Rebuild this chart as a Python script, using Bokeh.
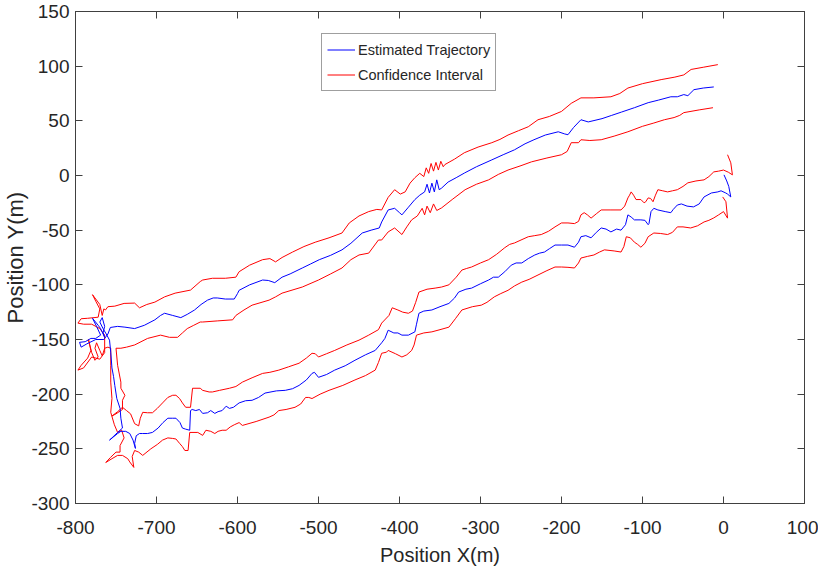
from bokeh.plotting import figure
from bokeh.models import LinearAxis, Legend, LegendItem, FixedTicker, Range1d
from bokeh.embed import file_html
from bokeh.resources import INLINE

# ---------------- data ----------------
x_ticks = [-800, -700, -600, -500, -400, -300, -200, -100, 0, 100]
y_ticks = [-300, -250, -200, -150, -100, -50, 0, 50, 100, 150]

# Estimated trajectory (x, y) in metres
trajectory = [
    (0.6, 0.6), (4, -5), (6.5, -10), (9, -19.6), (5, -17), (2.8, -16), (-3, -14), (-7, -15), (-15, -16),
    (-24, -19.6), (-30, -26), (-37, -28.7), (-45, -28), (-52, -26), (-57, -27), (-62, -31), (-65, -34),
    (-72, -33), (-81, -31.5), (-86, -30), (-89.5, -33), (-92, -44), (-93, -45), (-97, -41), (-102, -40.6),
    (-110, -40.6), (-114, -38), (-118, -36), (-121, -45), (-126.5, -50), (-132, -49), (-139, -51.6),
    (-145, -49), (-151, -48), (-157, -52), (-163.5, -57), (-170, -55), (-176, -56), (-179, -61), (-184, -65.6),
    (-192, -63.6), (-200, -63.6), (-208, -63.6), (-215, -67), (-221, -70), (-227, -71), (-233, -72.7),
    (-241, -76), (-249, -80), (-256, -80), (-262, -82), (-270, -88), (-278, -93), (-284, -93), (-290, -95.6),
    (-300, -99), (-311, -103), (-318, -104), (-327, -106.6), (-332, -112), (-339, -117), (-350, -120),
    (-360, -123), (-370, -124), (-376, -126), (-379, -136), (-381, -143), (-389, -146), (-397, -146),
    (-402, -144), (-407, -144), (-414, -141.5), (-418, -149), (-422, -153), (-430, -160), (-442, -164),
    (-455, -169), (-467, -174), (-480, -178), (-490, -182), (-500, -184.6), (-505, -180), (-508, -181),
    (-515, -187), (-524, -192), (-532, -195), (-541, -196.5), (-552, -197), (-566, -199), (-574, -203),
    (-582, -205.6), (-590, -206), (-598, -208), (-605, -212), (-610, -213), (-614, -211), (-619, -215),
    (-624, -216), (-628, -217.6), (-633, -215), (-637, -217), (-643, -217.6), (-647, -214), (-651.5, -215),
    (-656, -214), (-658, -215), (-659, -233), (-664, -232), (-668, -231), (-671, -226), (-676, -222),
    (-680, -222), (-686, -222), (-692, -226), (-698, -231), (-705, -235), (-711, -236), (-717, -236),
    (-721, -236), (-725, -238), (-727, -245), (-726, -249.6), (-729, -242), (-733, -236), (-738, -234),
    (-744, -234), (-748, -236), (-753, -239), (-758, -242), (-755, -240), (-748, -235), (-742, -231),
    (-744, -222), (-745, -213), (-749, -204), (-751.5, -192), (-753, -184), (-755, -176), (-756.5, -161.6),
    (-758, -150.6), (-762, -145), (-766, -140), (-770, -134), (-767, -130), (-764, -138), (-766, -144),
    (-764, -148), (-769, -140), (-772, -137), (-779, -130.6), (-774, -138), (-769, -146), (-775, -149),
    (-781, -149), (-788, -152), (-795, -152.6), (-793, -157), (-786, -154), (-775, -150), (-765, -150),
    (-760, -145), (-757, -139), (-748, -138), (-739, -138.7), (-727, -140), (-715, -137), (-702, -132),
    (-695, -128), (-690, -126), (-680, -128), (-670, -130), (-662, -127), (-653, -123), (-645, -118),
    (-637, -114), (-630, -112), (-625, -112), (-615, -113), (-604, -113), (-600, -108), (-598, -105),
    (-585, -100), (-569, -95.6), (-562, -96), (-554, -98), (-545, -93), (-535, -90), (-520, -84.6),
    (-510, -81), (-499, -77), (-485, -73), (-471, -68), (-460, -62), (-446, -52.6), (-435, -50), (-425, -48),
    (-422, -42.5), (-414, -31.5), (-406, -30), (-400, -34), (-397, -36), (-389, -29), (-381, -22),
    (-375, -18), (-369, -15), (-366, -8), (-363, -16), (-360, -7), (-357, -15), (-354, -4), (-351, -13),
    (-348, -11.5), (-340, -6), (-330, -2), (-319.5, 2.4), (-305, 8), (-286, 14.3), (-272, 19), (-258, 23.5),
    (-245, 29), (-234, 32.7), (-220, 37), (-204, 40), (-196, 38), (-192, 37.3), (-185, 44), (-176, 51),
    (-167, 49), (-150, 52), (-138, 55), (-126, 58), (-110, 62), (-93, 66.6), (-80, 69), (-65, 72), (-57, 72),
    (-49, 74), (-44, 73), (-36.5, 78.5), (-25, 80), (-12, 81),
]

# Confidence interval, right-hand boundary
ci_right = [
    (5, 19), (9, 11.6), (11, 0.6), (6, 3), (0, 5), (-6, 4), (-12, 3.3), (-18, -1), (-24, -4), (-34, -5),
    (-44, -6.7), (-50, -10), (-57, -13), (-63, -14), (-69, -15), (-75, -14), (-81, -13), (-84, -18),
    (-87, -24), (-90, -21), (-93, -20.5), (-96, -24), (-98, -25), (-102, -22), (-108, -22), (-111, -18),
    (-114, -15), (-116, -18), (-118, -20.5), (-122, -28), (-126.5, -31.5), (-140, -31.5), (-151, -31.5),
    (-157, -35), (-163.5, -39), (-168, -36), (-172, -34), (-176, -36), (-179, -42), (-184, -44),
    (-192, -43.4), (-200, -43.4), (-208, -47), (-216, -51), (-225, -54), (-233, -55), (-241, -56),
    (-250, -59), (-258, -61.7), (-264, -63), (-270, -66), (-280, -72), (-290, -77), (-300, -80),
    (-311, -83.7), (-317, -85), (-323, -86.5), (-330, -93), (-339, -100), (-348, -102), (-356, -103),
    (-366, -104), (-376, -106.6), (-380, -116), (-384, -124), (-389, -126), (-396, -125), (-402, -123),
    (-409, -121), (-413, -128), (-422, -135), (-426, -141), (-438, -146), (-450, -150.6), (-465, -155),
    (-480, -160), (-490, -163), (-500, -166), (-504, -163), (-508, -162.6), (-515, -167), (-524, -171.7),
    (-537, -175), (-549, -178), (-560, -180), (-569, -181), (-582, -185), (-594, -189), (-602, -193),
    (-610, -194.6), (-622, -196.5), (-631, -198), (-635, -198), (-643, -196.5), (-646, -194.6),
    (-655.5, -194.6), (-658, -212), (-664, -212), (-668, -208), (-671.5, -204), (-676, -201), (-680, -201),
    (-686, -203), (-692.5, -208), (-699, -213), (-705, -217), (-711, -217), (-717, -216.6), (-720, -222),
    (-722, -229), (-727, -227), (-732, -218), (-737, -215), (-742, -212), (-748, -216), (-755, -220),
    (-750, -218), (-742, -214), (-742, -205.6), (-739, -201), (-744, -194.6), (-744, -189), (-748, -173.6),
    (-750, -158), (-744, -158), (-737, -157), (-727, -155), (-711, -149), (-695, -146), (-684, -148),
    (-674, -148), (-668, -144), (-662, -140), (-654, -137), (-646, -134), (-643, -134), (-625, -133),
    (-606, -132), (-602, -128), (-592, -123), (-582, -118.6), (-561, -114), (-553, -111), (-545, -107.6),
    (-520, -102), (-500, -95.6), (-485, -90), (-471, -84.6), (-460, -77), (-450, -72.7), (-438, -71),
    (-426, -59), (-422, -59), (-414, -51.6), (-406, -48), (-397, -54), (-391, -47), (-385, -40.6),
    (-378, -37), (-372, -30), (-369, -36), (-366, -28), (-362, -34), (-358, -26), (-354, -32),
    (-348, -29.6), (-335, -22), (-319, -13), (-305, -8), (-290, -4), (-278, 1), (-266, 5), (-250, 9),
    (-237, 12.5), (-218, 16), (-200, 19), (-193, 22), (-188, 30), (-179, 30), (-176, 32.7), (-165, 32),
    (-151, 32.7), (-135, 36), (-118, 40), (-100, 45), (-86, 48), (-73, 51), (-61, 53), (-54, 55),
    (-49, 57.5), (-30, 60), (-13, 62),
]

# Confidence interval, left-hand boundary
ci_left = [
    (-1, -19.6), (3, -24), (5, -39), (0, -33), (-6, -36), (-12, -38.8), (-18, -41), (-24, -42.5),
    (-32, -46), (-40.6, -48), (-50, -47), (-57, -47), (-63, -52), (-69, -54), (-78, -53), (-86, -52.6),
    (-93, -56), (-97, -62), (-102, -65.6), (-106, -63), (-110, -61), (-115, -57), (-120, -56), (-123, -65),
    (-126.5, -70), (-135, -69), (-147, -68), (-153, -70), (-160, -72.7), (-168, -74), (-176, -75.5),
    (-179, -80), (-184, -84.6), (-192, -84), (-200, -83.7), (-208, -83.7), (-218, -87), (-229, -91),
    (-240, -95), (-249, -97.5), (-258, -101), (-266, -105), (-275, -108), (-283, -111), (-292, -116),
    (-299, -118.6), (-310, -120), (-323, -123), (-331, -131), (-339, -138.7), (-350, -141), (-360, -143),
    (-370, -144), (-379, -146), (-382, -155), (-385, -160), (-391, -164), (-397, -166), (-405, -163),
    (-414, -160), (-416, -161.6), (-422, -162.6), (-426, -171), (-430, -178), (-442, -183), (-455, -187),
    (-470, -192), (-487, -196.5), (-498, -200), (-508, -204), (-512, -203), (-516, -203), (-522, -209),
    (-529, -212), (-540, -214), (-549, -215), (-555, -219), (-561, -221), (-577, -225), (-594, -228.6),
    (-598, -226), (-604, -228), (-609, -230), (-614, -233), (-619, -233), (-624, -234), (-628, -236),
    (-633, -234), (-639, -233), (-643, -237.7), (-649, -235), (-659, -235), (-661, -251.5), (-665, -251.5),
    (-668, -248), (-671.5, -245), (-676, -241), (-680, -240.5), (-686, -240), (-692.5, -242), (-699, -246),
    (-707, -250), (-717, -256), (-722, -253), (-727, -251.5), (-730, -257), (-728, -267), (-733, -262),
    (-735.5, -259), (-742, -256), (-748, -256), (-755, -259), (-762.6, -262.5), (-757, -258), (-750, -253),
    (-745, -253), (-745, -247), (-740, -240), (-743, -233), (-748, -235), (-752, -228), (-756.5, -216.6),
    (-755, -204), (-756.5, -189), (-756.5, -173.6), (-756.5, -158), (-760, -157), (-764, -158), (-767, -165),
    (-770, -160), (-774, -153), (-776, -158), (-772, -166), (-776, -169), (-780, -162), (-784, -150),
    (-781, -160), (-785, -167), (-793, -173.6), (-797, -178), (-790, -176), (-780, -166), (-770, -168),
    (-764, -162), (-764, -146), (-770, -140), (-780, -136), (-790, -136), (-797, -135), (-793, -131),
    (-785, -130.6), (-772, -129.6), (-770, -122), (-775, -115), (-779, -109), (-776, -112), (-770, -118),
    (-767, -128), (-765, -122), (-763, -123), (-760, -120), (-751.5, -119.5), (-740, -117), (-727, -116.7),
    (-721, -121), (-712, -118), (-702, -115.8), (-690, -111), (-677, -107.6), (-658, -104.8), (-646, -97),
    (-643, -95.6), (-631, -94), (-615, -94), (-602, -93), (-598, -88), (-585, -82), (-569, -77), (-560, -76),
    (-553, -79), (-545, -75), (-532, -70), (-518, -65), (-504, -61), (-487, -57), (-471, -52.6),
    (-462, -43.4), (-450, -37), (-438, -33), (-428, -31), (-422, -31.5), (-414, -20), (-406, -13),
    (-399, -17), (-393, -15), (-387, -7), (-381, -2), (-375, 2), (-370, -1), (-367, 7), (-364, 2), (-361, 11),
    (-358, 4), (-355, 12), (-352, 5), (-349, 13), (-346, 8), (-344, 10), (-332, 15), (-320, 20.8),
    (-303, 26), (-286, 30), (-276, 33), (-266, 37), (-253, 41), (-241, 44.6), (-229, 51), (-215, 54),
    (-200, 58.6), (-188, 66), (-176, 71), (-160, 71), (-139, 72), (-128, 75), (-118, 80), (-100, 84),
    (-77, 87.7), (-60, 90), (-49, 92), (-40, 97), (-25, 99), (-7, 101.4),
]

legend_labels = ["Estimated Trajectory", "Confidence Interval"]

# ---------------- figure ----------------
AX = "#404040"
TXT = "#262626"
FONT = "Liberation Sans"

p = figure(width=818, height=572, output_backend="svg", toolbar_location=None,
           x_range=Range1d(-800, 100), y_range=Range1d(-300, 150),
           min_border_left=73, min_border_right=14, min_border_top=11, min_border_bottom=69,
           background_fill_color="white", border_fill_color="white")
p.grid.visible = False
p.outline_line_color = AX
p.outline_line_width = 1

for ax, ticks in ((p.xaxis[0], x_ticks), (p.yaxis[0], y_ticks)):
    ax.ticker = FixedTicker(ticks=ticks)
    ax.major_label_overrides = {t: str(t) for t in ticks}
    ax.major_tick_in = 7
    ax.major_tick_out = 0
    ax.minor_tick_line_color = None
    ax.axis_line_color = AX
    ax.major_tick_line_color = AX
    ax.major_label_text_font = FONT
    ax.major_label_text_font_size = "19px"
    ax.major_label_text_color = TXT
    ax.axis_label_text_font = FONT
    ax.axis_label_text_font_style = "normal"
    ax.axis_label_text_color = TXT

p.xaxis.major_label_standoff = 17
p.yaxis.major_label_standoff = 6
p.xaxis.axis_label = "Position X(m)"
p.xaxis.axis_label_text_font_size = "20px"
p.xaxis.axis_label_standoff = 7
p.yaxis.axis_label = "Position Y(m)"
p.yaxis.axis_label_text_font_size = "22px"
p.yaxis.axis_label_standoff = 0

for side, ticks in (("above", x_ticks), ("right", y_ticks)):
    a = LinearAxis(ticker=FixedTicker(ticks=ticks), major_tick_in=7, major_tick_out=0,
                   minor_tick_line_color=None, axis_line_color=AX, major_tick_line_color=AX,
                   major_label_text_font_size="0px", major_label_text_color=None,
                   major_label_standoff=0)
    p.add_layout(a, side)

def split(pts):
    return [q[0] for q in pts], [q[1] for q in pts]

tx, ty = split(trajectory)
rx, ry = split(ci_right)
lx, ly = split(ci_left)

r_red1 = p.line(rx, ry, line_color="#ff0000", line_width=1)
r_red2 = p.line(lx, ly, line_color="#ff0000", line_width=1)
r_blue = p.line(tx, ty, line_color="#0000ff", line_width=1)

legend = Legend(items=[LegendItem(label=legend_labels[0], renderers=[r_blue]),
                       LegendItem(label=legend_labels[1], renderers=[r_red1])],
                location=(246, 412), orientation="vertical",
                label_text_font=FONT, label_text_font_size="14.5px", label_text_color=TXT,
                glyph_width=28, glyph_height=21, label_height=21, label_standoff=3,
                padding=5, spacing=4, margin=0,
                border_line_color=AX, border_line_width=1, background_fill_color="white",
                background_fill_alpha=1)
p.add_layout(legend)

open("out.html", "w").write(file_html(p, INLINE))
